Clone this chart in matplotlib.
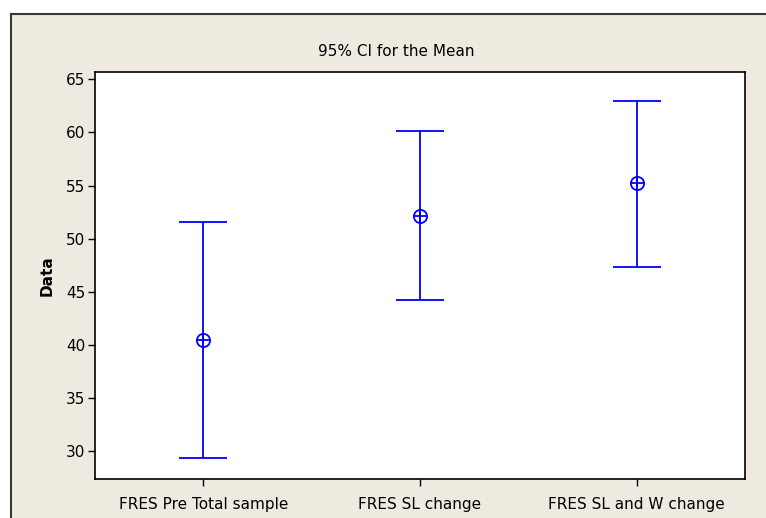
import matplotlib
matplotlib.use("Agg")
import matplotlib.pyplot as plt
from matplotlib.patches import Rectangle
from matplotlib.lines import Line2D

categories = ["FRES Pre Total sample", "FRES SL change", "FRES SL and W change"]
means = [40.5, 52.1, 55.2]
lower = [29.35, 44.2, 47.3]
upper = [51.6, 60.1, 63.0]
yticks = [30, 35, 40, 45, 50, 55, 60, 65]

plt.rcParams['font.family'] = ['DejaVu Sans']

W, H = 766, 518
fig = plt.figure(figsize=(W / 100, H / 100), dpi=100)
fig.patch.set_facecolor('white')

# beige frame
bg = Rectangle((11 / W, 0), 1.0, 1 - 14 / H, transform=fig.transFigure,
               facecolor='#EEEAE0', edgecolor='none', zorder=-10)
fig.patches.append(bg)
fig.lines.append(Line2D([11 / W, 1], [1 - 14 / H, 1 - 14 / H], transform=fig.transFigure,
                        color='#3a3a3a', lw=1.5))
fig.lines.append(Line2D([11 / W, 11 / W], [0, 1 - 14 / H], transform=fig.transFigure,
                        color='#3a3a3a', lw=1.5))

ax = fig.add_axes([95 / W, 1 - 479 / H, 650 / W, 407 / H])
ax.set_facecolor('white')
x = list(range(1, len(categories) + 1))
yerr = [[m - l for m, l in zip(means, lower)], [u - m for m, u in zip(means, upper)]]
ax.errorbar(x, means, yerr=yerr, fmt='none', ecolor='#0000FF', elinewidth=1.3,
            capsize=17, capthick=1.3)
ax.plot(x, means, linestyle='none', marker='o', markersize=9.5, markerfacecolor='none',
        markeredgecolor='#0000FF', markeredgewidth=1.3)
ax.plot(x, means, linestyle='none', marker='+', markersize=9.5,
        markeredgecolor='#0000FF', markeredgewidth=1.3)

ax.set_xlim(0.5, 3.5)
ax.set_ylim(27.37, 65.69)
ax.set_yticks(yticks)
ax.set_xticks(x)
ax.set_xticklabels(categories)
for s in ax.spines.values():
    s.set_linewidth(1.2)
    s.set_color('black')
ax.tick_params(direction='out', length=5, width=1, labelsize=11, pad=2, colors='black')
ax.tick_params(axis='x', pad=8)
ax.set_ylabel('Data', fontweight='bold', fontsize=11, labelpad=8)

fig.text(396 / W, 1 - 52 / H, '95% CI for the Mean', ha='center', va='center', fontsize=11)

fig.savefig('out.png', dpi=100)
